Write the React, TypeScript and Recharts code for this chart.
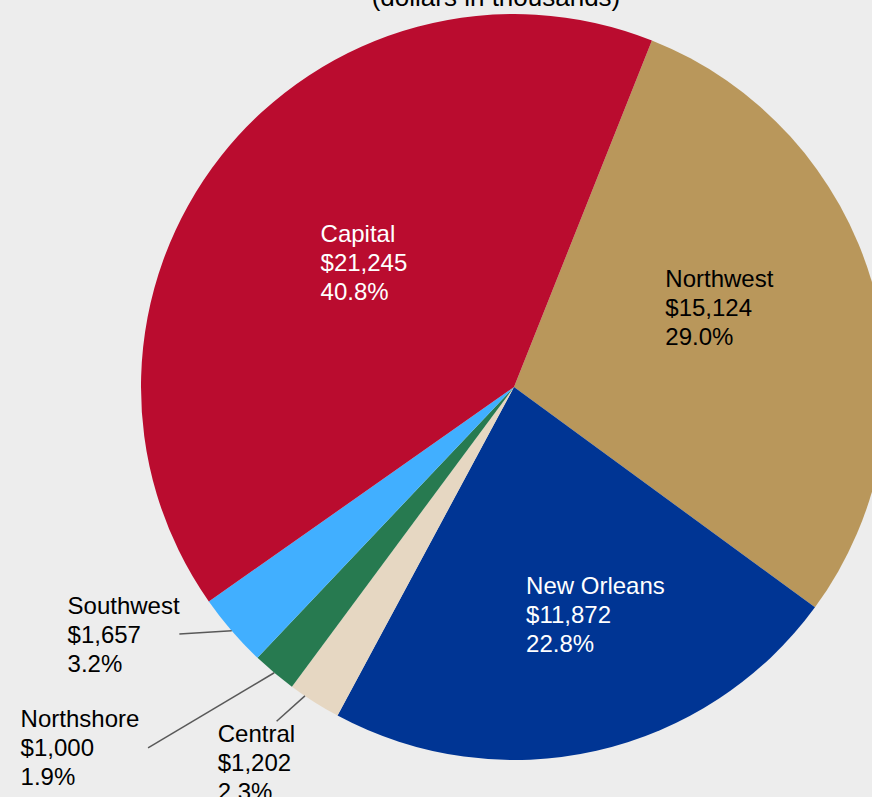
import React from "react";
import { Cell, Pie, PieChart } from "recharts";

const REGIONS = ["Northwest", "New Orleans", "Central", "Northshore", "Southwest", "Capital"];
const AMOUNTS = [15124, 11872, 1202, 1000, 1657, 21245];
const PERCENTS = ["29.0%", "22.8%", "2.3%", "1.9%", "3.2%", "40.8%"];
const COLORS = ["#B9975B", "#003594", "#E6D7C2", "#277A50", "#41AFFF", "#BA0C2F"];

const data = REGIONS.map((name, i) => ({ name, value: AMOUNTS[i], pct: PERCENTS[i] }));

const W = 872;
const H = 797;
const FONT = "'Liberation Sans', Arial, Helvetica, sans-serif";
const RAD = Math.PI / 180;

// label placement: angle shift (clockwise, deg), radius fraction, small vertical nudge
const LAYOUT: Record<string, any> = {
  Capital: { text: [-1.7, 0.646], nudge: -1, fill: "#fff" },
  Northwest: { text: [-17.9, 0.489], nudge: 2, fill: "#000" },
  "New Orleans": { text: [9.4, 0.55], nudge: 2, fill: "#fff" },
  Central: { text: [7.6, 1.236], nudge: 2, fill: "#000", line: [[1.7, 1.0], [3.0, 1.099]] },
  Northshore: { text: [15.3, 1.609], nudge: -2, fill: "#000", line: [[0, 1.0], [5.4, 1.378]] },
  Southwest: { text: [13.6, 1.346], nudge: -3, fill: "#000", line: [[0, 1.0], [4.4, 1.115]] },
};

const fmt = (v: number) => "$" + v.toLocaleString("en-US");

function renderLabel(props: any) {
  const { cx, cy, midAngle, outerRadius, index } = props;
  const d = data[index];
  const cfg = LAYOUT[d.name];
  const at = (shift: number, f: number) => {
    const a = (midAngle - shift) * RAD;
    return [cx + outerRadius * f * Math.cos(a), cy - outerRadius * f * Math.sin(a)];
  };
  const [tx, ty] = at(cfg.text[0], cfg.text[1]);
  let line = null;
  if (cfg.line) {
    const [x1, y1] = at(cfg.line[0][0], cfg.line[0][1]);
    const [x2, y2] = at(cfg.line[1][0], cfg.line[1][1]);
    line = <line x1={x1} y1={y1} x2={x2} y2={y2} stroke="#595959" strokeWidth={1.5} />;
  }
  return (
    <g key={d.name}>
      {line}
      <text x={tx} y={ty} fill={cfg.fill} fontSize={24} fontFamily={FONT} textAnchor="start">
        <tspan x={tx} dy={cfg.nudge}>{d.name}</tspan>
        <tspan x={tx} dy={29}>{fmt(d.value)}</tspan>
        <tspan x={tx} dy={29}>{d.pct}</tspan>
      </text>
    </g>
  );
}

export default function App() {
  return (
    <div style={{ position: "absolute", left: 0, top: 0, width: W, height: H, background: "#EDEDED", overflow: "hidden" }}>
      <PieChart width={W} height={H} margin={{ top: 0, right: 0, bottom: 0, left: 0 }}>
        <Pie
          data={data}
          dataKey="value"
          nameKey="name"
          cx={514}
          cy={387}
          outerRadius={373}
          startAngle={68.3}
          endAngle={68.3 - 360}
          stroke="none"
          label={renderLabel}
          labelLine={false}
          isAnimationActive={false}
        >
          {data.map((d, i) => (
            <Cell key={d.name} fill={COLORS[i]} />
          ))}
        </Pie>
      </PieChart>
      <svg width={W} height={30} style={{ position: "absolute", left: 0, top: 0 }}>
        <text x={496} y={6} textAnchor="middle" fontSize={26} fontFamily={FONT} fill="#000">
          (dollars in thousands)
        </text>
      </svg>
    </div>
  );
}
